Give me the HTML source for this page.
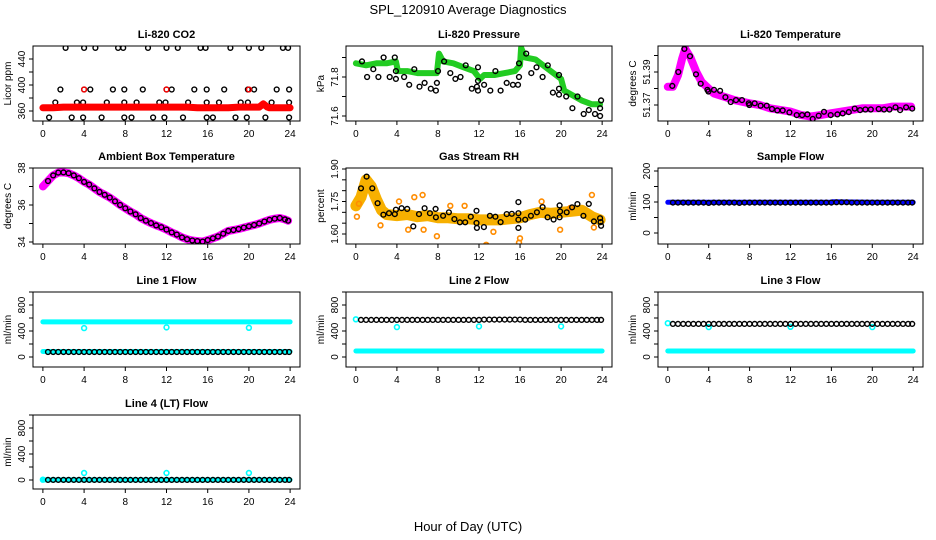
<!DOCTYPE html>
<html><head><meta charset="utf-8"><style>
html,body{margin:0;padding:0;background:#fff;}
svg{display:block;font-family:"Liberation Sans",Arial,sans-serif;}
</style></head><body>
<svg id="chart" width="936" height="540" viewBox="0 0 936 540" xmlns="http://www.w3.org/2000/svg">
<rect x="0" y="0" width="936" height="540" fill="#fff"/>
<text x="468" y="14" text-anchor="middle" font-size="13">SPL_120910  Average Diagnostics</text>
<text x="468" y="531" text-anchor="middle" font-size="13">Hour of Day (UTC)</text>
</svg>
<script>
// ---------- data ----------
const xTicks = [0,4,8,12,16,20,24];

const co2BlackHours = [2.2,4,5.1,7.3,7.8,10.2,12,13.1,15.3,15.8,18.2,20,21.2,23.3,23.8,
 1.7,4,4.6,6.8,7.9,9.7,12,12.5,14.7,15.9,17.6,19.9,20.5,22.7,23.9,
 1.2,3.3,3.9,6.2,7.9,9.1,11.3,11.9,14.1,15.9,17.1,19.2,19.9,22.2,23.9,
 0.6,2.8,3.9,5.7,7.9,8.6,10.7,11.8,13.6,15.9,16.5,18.7,19.8,21.6,23.9];
const co2BlackValues = [457,457,457,457,457,457,457,457,457,457,457,457,457,457,457,
 393,393,393,393,393,393,393,393,393,393,393,393,393,393,393,
 373,373,373,373,373,373,373,373,373,373,373,373,373,373,373,
 350,350,350,350,350,350,350,350,350,350,350,350,350,350,350];
const co2RedHours = [0,1,2,3,4,5,6,7,8,9,10,11,12,13,14,15,16,17,18,19,20,21,21.4,21.8,22,23,24];
const co2RedValues = [365,365,366,366,366,366,366,366,366,366,366,366,366,366,366,365,365,365,365,366,366,366,371,366,365,365,365];
const co2RedMarkHours = [4,12,20];
const co2RedMarkValues = [393,393,393];

const presGreenHours = [0,1,2,3,3.9,4.1,5,6,7,7.9,8.1,8.5,9.5,10.5,11.5,12.1,12.5,13.5,14.5,15.5,16,16.1,16.5,17.5,18.5,19,20,20.3,21,22,23,23.8];
const presGreenValues = [71.87,71.86,71.87,71.87,71.88,71.83,71.83,71.82,71.82,71.82,71.92,71.88,71.87,71.85,71.83,71.79,71.81,71.81,71.82,71.83,71.86,71.95,71.90,71.89,71.85,71.83,71.79,71.73,71.71,71.68,71.66,71.66];
const presBlackHours = [0.6,1.1,1.7,2.2,2.7,3.3,3.9,3.9,3.8,4.7,5.2,5.7,6.2,6.7,7.3,7.8,7.9,8,8.6,9.2,9.7,10.2,10.7,11.3,11.8,11.9,11.9,11.9,12.5,13.1,13.6,14.1,14.7,15.3,15.8,15.9,15.9,16.6,17.1,17.6,18.2,18.7,19.2,19.8,19.8,19.8,20.5,21.1,21.6,22.2,22.7,23.3,23.8,23.8,23.9];
const presBlackValues = [71.88,71.80,71.84,71.80,71.90,71.80,71.79,71.83,71.90,71.80,71.76,71.84,71.75,71.77,71.74,71.73,71.77,71.83,71.88,71.82,71.79,71.80,71.86,71.74,71.75,71.73,71.78,71.85,71.76,71.73,71.83,71.73,71.77,71.76,71.76,71.80,71.87,71.92,71.82,71.85,71.80,71.86,71.72,71.81,71.74,71.71,71.70,71.64,71.70,71.61,71.63,71.61,71.60,71.64,71.68];

const tempMagHours = [0,0.5,1,1.4,1.7,2.2,2.8,3.3,4,4.5,5.5,6.5,8,9,10,11,12,13,14,15,16,17,18,19,20,21,22,23,23.8];
const tempMagValues = [51.381,51.381,51.388,51.398,51.404,51.399,51.390,51.384,51.380,51.377,51.375,51.373,51.371,51.370,51.368,51.367,51.366,51.364,51.363,51.364,51.365,51.366,51.367,51.368,51.368,51.368,51.369,51.369,51.369];
const tempBlackHours = [0.44,1.03,1.62,2.17,2.76,3.22,3.87,3.97,4.52,5.11,5.63,6.15,6.67,7.26,7.91,7.97,8.5,9.08,9.67,10.19,10.71,11.24,11.89,12.61,13.13,13.65,14.17,14.76,15.28,15.93,16.59,17.11,17.7,18.28,18.81,19.33,19.85,20.63,21.16,21.68,22.27,22.72,23.31,23.9];
const tempBlackValues = [51.3816,51.39,51.4040,51.3996,51.3886,51.3829,51.3792,51.3782,51.3792,51.3786,51.3747,51.3718,51.373,51.373,51.371,51.37,51.371,51.3696,51.3696,51.3676,51.3667,51.3667,51.3655,51.3639,51.3639,51.3643,51.3616,51.3635,51.3659,51.3639,51.3643,51.3649,51.3657,51.3678,51.3669,51.3673,51.3673,51.3676,51.3673,51.3673,51.3686,51.3669,51.3686,51.3678];

const ambHours = [0,0.5,1,1.5,2,2.5,3,3.5,4,4.5,5,5.5,6,6.5,7,7.5,8,8.5,9,9.5,10,10.5,11,11.5,12,12.5,13,13.5,14,14.5,15,15.5,16,16.5,17,17.5,18,18.5,19,19.5,20,20.5,21,21.5,22,22.5,23,23.5,23.8];
const ambValues = [37.0,37.3,37.6,37.75,37.76,37.72,37.6,37.45,37.25,37.1,36.9,36.7,36.55,36.4,36.2,36.0,35.82,35.65,35.5,35.3,35.15,35.02,34.9,34.8,34.67,34.52,34.4,34.25,34.15,34.08,34.05,34.02,34.1,34.2,34.3,34.45,34.6,34.65,34.7,34.78,34.85,34.92,35.0,35.1,35.2,35.26,35.3,35.22,35.15];

const rhBandHours = [0,0.5,1,1.5,2,2.5,3,4,5,6,7,8,9,10,11,12,13,14,15,16,17,18,19,20,21,22,23,23.8];
const rhBandValues = [1.73,1.77,1.85,1.82,1.76,1.71,1.69,1.685,1.69,1.68,1.685,1.675,1.675,1.67,1.67,1.665,1.665,1.665,1.67,1.675,1.69,1.70,1.695,1.70,1.705,1.71,1.68,1.665];
const rhOutHours = [0.1,0.3,5.1,5.7,6.5,6.6,7.9,9.2,12.7,15.9,16,19.9,23,23.2,4.2,10.6,18.1,2.4,13.4,20.9];
const rhOutValues = [1.68,1.74,1.62,1.77,1.78,1.62,1.59,1.73,1.55,1.56,1.58,1.62,1.78,1.63,1.75,1.73,1.75,1.64,1.61,1.72];
const rhBlackHours = [0.5,1.05,1.6,2.12,2.68,3.23,3.8,3.9,4.46,5.0,5.6,6.15,6.7,7.22,7.77,7.8,8.5,9.07,9.6,10.14,10.66,11.2,11.76,11.76,11.8,12.48,13.06,13.6,14.1,14.7,15.2,15.84,15.84,15.84,15.84,16.5,17.06,17.64,18.2,18.68,19.27,19.85,19.85,19.9,20.55,21.07,21.59,22.17,22.7,23.2,23.8,23.85,23.9];
const rhBlackValues = [1.811,1.865,1.811,1.742,1.689,1.696,1.692,1.712,1.719,1.716,1.635,1.692,1.719,1.696,1.716,1.677,1.684,1.70,1.669,1.654,1.654,1.68,1.707,1.651,1.628,1.632,1.684,1.68,1.655,1.692,1.693,1.747,1.696,1.666,1.628,1.666,1.684,1.70,1.724,1.677,1.667,1.677,1.732,1.704,1.70,1.723,1.738,1.684,1.739,1.658,1.673,1.655,1.638];

const flowHours = [0.5,1,1.5,2,2.5,3,3.5,4,4.5,5,5.5,6,6.5,7,7.5,8,8.5,9,9.5,10,10.5,11,11.5,12,12.5,13,13.5,14,14.5,15,15.5,16,16.5,17,17.5,18,18.5,19,19.5,20,20.5,21,21.5,22,22.5,23,23.5,23.9];
const sampleBlackValues = [98,98,98,98,98,98,98,97,98,98,98,98,98,97,98,98,98,98,98,98,98,98,98,98,98,98,98,98,98,98,98,98,99,99,99,98,98,98,98,98,98,98,98,98,98,98,98,98];
const sampleBlueHours = [0,4,8,12,16,16.1,20,24];
const sampleBlueValues = [99,99,99,99,99,101,99,99];
const line1BlackValues = [77,77,77,77,77,77,77,77,77,77,77,77,77,77,77,77,77,77,77,77,77,77,77,77,77,77,77,77,77,77,77,77,77,77,77,77,77,77,77,77,77,77,77,77,77,77,77,77];
const line1CyanTopHours = [0,4,8,12,16,20,24];
const line1CyanTopValues = [540,540,540,540,540,540,540];
const line1CyanLowHours = [0,4,8,12,16,20,24];
const line1CyanLowValues = [85,85,85,85,85,85,85];
const line1DipHours = [4,12,20];
const line1DipValues = [445,455,450];
const line2BlackValues = [570,570,570,570,570,570,570,570,570,570,570,570,570,570,570,570,570,570,570,570,570,570,570,570,575,575,575,575,575,575,575,575,570,570,570,570,570,570,570,570,570,570,570,570,570,570,570,570];
const line2CyanLowHours = [0,4,8,12,16,20,24];
const line2CyanLowValues = [92,92,92,92,92,92,92];
const line2DipHours = [0,4,12,20];
const line2DipValues = [580,460,470,470];
const line3BlackValues = [510,510,510,510,510,510,510,510,510,510,510,510,510,510,510,510,510,510,510,510,510,510,510,510,510,510,510,510,510,510,510,510,510,510,510,510,510,510,510,510,510,510,510,510,510,510,510,510];
const line3CyanLowHours = [0,4,8,12,16,20,24];
const line3CyanLowValues = [92,92,92,92,92,92,92];
const line3DipHours = [0,4,12,20];
const line3DipValues = [520,460,465,460];
const line4BlackValues = [2,2,2,2,2,2,2,2,2,2,2,2,2,2,2,2,2,2,2,2,2,2,2,2,2,2,2,2,2,2,2,2,2,2,2,2,2,2,2,2,2,2,2,2,2,2,2,2];
const line4CyanLowHours = [0,4,8,12,16,20,24];
const line4CyanLowValues = [2,2,2,2,2,2,2];
const line4DipHours = [0,4,12,20];
const line4DipValues = [5,108,108,108];

// ---------- drawing ----------
const NS = "http://www.w3.org/2000/svg";
const svg = document.getElementById("chart");
function el(tag, parent) { const e = document.createElementNS(NS, tag); parent.appendChild(e); return e; }

function makePanel(cfg) {
  const g = el("g", svg);
  
  
  const [x0, y0, x1, y1] = cfg.box;
  const xLo = -0.96, xHi = 24.96;
  const sx = h => x0 + (h - xLo) / (xHi - xLo) * (x1 - x0);
  const k = (cfg.ref[1][1] - cfg.ref[0][1]) / (cfg.ref[1][0] - cfg.ref[0][0]);
  const sy = v => cfg.ref[0][1] + (v - cfg.ref[0][0]) * k;
  const clip = "clip-" + cfg.name;
  const cp = el("clipPath", g); cp.setAttribute("id", clip);
  const cr = el("rect", cp);
  cr.setAttribute("x", x0); cr.setAttribute("y", y0); cr.setAttribute("width", x1 - x0); cr.setAttribute("height", y1 - y0);
  const plot = el("g", g); plot.setAttribute("clip-path", "url(#" + clip + ")");
  
  

  const title = el("text", g);
  title.setAttribute("x", (x0 + x1) / 2); title.setAttribute("y", y0 - 8);
  title.setAttribute("text-anchor", "middle"); title.setAttribute("font-size", "11"); title.setAttribute("font-weight", "bold");
  title.textContent = cfg.title;
  
  

  const xa = el("g", g);
  
  
  const xl = el("line", xa);
  xl.setAttribute("x1", sx(xTicks[0])); xl.setAttribute("x2", sx(xTicks[xTicks.length - 1]));
  xl.setAttribute("y1", y1); xl.setAttribute("y2", y1); xl.setAttribute("stroke", "#000");
  xTicks.forEach(t => {
    const tl = el("line", xa);
    tl.setAttribute("x1", sx(t)); tl.setAttribute("x2", sx(t)); tl.setAttribute("y1", y1); tl.setAttribute("y2", y1 + 4); tl.setAttribute("stroke", "#000");
    const tx = el("text", xa);
    tx.setAttribute("x", sx(t)); tx.setAttribute("y", y1 + 16); tx.setAttribute("text-anchor", "middle"); tx.setAttribute("font-size", "10");
    tx.textContent = t;
    
    
  });
  const ya = el("g", g);
  
  
  const yt = cfg.yTicks;
  const yl = el("line", ya);
  yl.setAttribute("x1", x0); yl.setAttribute("x2", x0); yl.setAttribute("y1", sy(yt[0])); yl.setAttribute("y2", sy(yt[yt.length - 1])); yl.setAttribute("stroke", "#000");
  yt.forEach(t => {
    const tl = el("line", ya);
    tl.setAttribute("x1", x0 - 4); tl.setAttribute("x2", x0); tl.setAttribute("y1", sy(t)); tl.setAttribute("y2", sy(t)); tl.setAttribute("stroke", "#000");
  });
  cfg.yLabels.forEach(t => {
    const tx = el("text", ya);
    const yy = sy(parseFloat(t));
    tx.setAttribute("x", x0 - 8); tx.setAttribute("y", yy);
    tx.setAttribute("transform", "rotate(-90 " + (x0 - 8) + " " + yy + ")");
    tx.setAttribute("text-anchor", "middle"); tx.setAttribute("font-size", "10");
    tx.textContent = t;
    
    
  });
  const ytt = el("text", g);
  const cy = (y0 + y1) / 2, cx = x0 - 22;
  ytt.setAttribute("x", cx); ytt.setAttribute("y", cy);
  ytt.setAttribute("transform", "rotate(-90 " + cx + " " + cy + ")");
  ytt.setAttribute("text-anchor", "middle"); ytt.setAttribute("font-size", "10");
  ytt.textContent = cfg.ytitle;
  
  

  function band(hours, vals, color, w, nm) {
    const p = el("polyline", plot);
    p.setAttribute("points", hours.map((h, i) => sx(h).toFixed(1) + "," + sy(vals[i]).toFixed(1)).join(" "));
    p.setAttribute("fill", "none"); p.setAttribute("stroke", color); p.setAttribute("stroke-width", w);
    p.setAttribute("stroke-linejoin", "round"); p.setAttribute("stroke-linecap", "round");
    
    
  }
  function pts(hours, vals, color, nm, sw) {
    const pg = el("g", plot);
    
    
    hours.forEach((h, i) => {
      const c = el("circle", pg);
      c.setAttribute("cx", sx(h).toFixed(1)); c.setAttribute("cy", sy(vals[i]).toFixed(1)); c.setAttribute("r", 2.4);
      c.setAttribute("fill", "none"); c.setAttribute("stroke", color); c.setAttribute("stroke-width", sw || 1.4);
      
      
    });
  }
  cfg.draw(band, pts);

  const bx = el("rect", g);
  bx.setAttribute("x", x0); bx.setAttribute("y", y0); bx.setAttribute("width", x1 - x0); bx.setAttribute("height", y1 - y0);
  bx.setAttribute("fill", "none"); bx.setAttribute("stroke", "#000");
  
  
}

const C1 = [33, 300], C2 = [346, 612], C3 = [658, 923];
const flowTicks = [0,200,400,600,800,1000], flowLabels = ["0","400","800"];

makePanel({name:"co2-panel", title:"Li-820 CO2", ytitle:"Licor ppm", box:[C1[0],46,C1[1],121], ref:[[360,111],[440,59]],
  yTicks:[360,380,400,420,440], yLabels:["360","400","440"],
  draw:(band,pts)=>{ pts(co2BlackHours,co2BlackValues,"#000","co2-hourly-points");
    band(co2RedHours,co2RedValues,"#ff0000",7,"co2-raw-series");
    pts(co2RedMarkHours,co2RedMarkValues,"#ff0000","co2-red-marks"); }});
makePanel({name:"pressure-panel", title:"Li-820 Pressure", ytitle:"kPa", box:[C2[0],46,C2[1],121], ref:[[71.6,116],[71.8,77]],
  yTicks:[71.6,71.7,71.8,71.9], yLabels:["71.6","71.8"],
  draw:(band,pts)=>{ band(presGreenHours,presGreenValues,"#22cc22",6,"pressure-raw-series");
    pts(presBlackHours,presBlackValues,"#000","pressure-hourly-points"); }});
makePanel({name:"temperature-panel", title:"Li-820 Temperature", ytitle:"degrees C", box:[C3[0],46,C3[1],121], ref:[[51.37,105],[51.39,72]],
  yTicks:[51.37,51.38,51.39,51.40], yLabels:["51.37","51.39"],
  draw:(band,pts)=>{ band(tempMagHours,tempMagValues,"#ff00ff",8,"temperature-raw-series");
    pts(tempBlackHours,tempBlackValues,"#000","temperature-hourly-points"); }});
makePanel({name:"ambient-panel", title:"Ambient Box Temperature", ytitle:"degrees C", box:[C1[0],168,C1[1],244], ref:[[34,242],[38,168]],
  yTicks:[34,35,36,37,38], yLabels:["34","36","38"],
  draw:(band,pts)=>{ band(ambHours,ambValues,"#ff00ff",8,"ambient-raw-series");
    pts(ambHours.slice(1),ambValues.slice(1),"#000","ambient-hourly-points"); }});
makePanel({name:"rh-panel", title:"Gas Stream RH", ytitle:"percent", box:[C2[0],168,C2[1],244], ref:[[1.60,234],[1.90,169]],
  yTicks:[1.60,1.65,1.70,1.75,1.80,1.85,1.90], yLabels:["1.60","1.75","1.90"],
  draw:(band,pts)=>{ band(rhBandHours,rhBandValues,"#f7b000",11,"rh-raw-series");
    pts(rhOutHours,rhOutValues,"#ff8c00","rh-raw-outliers",1.6);
    pts(rhBlackHours,rhBlackValues,"#000","rh-hourly-points"); }});
makePanel({name:"sample-flow-panel", title:"Sample Flow", ytitle:"ml/min", box:[C3[0],168,C3[1],244], ref:[[0,233],[200,171]],
  yTicks:[0,50,100,150,200], yLabels:["0","100","200"],
  draw:(band,pts)=>{ band(sampleBlueHours,sampleBlueValues,"#0000ff",5,"sample-flow-raw");
    pts(flowHours,sampleBlackValues,"#000","sample-flow-hourly-points"); }});
makePanel({name:"line1-flow-panel", title:"Line 1 Flow", ytitle:"ml/min", box:[C1[0],292,C1[1],367], ref:[[0,357],[800,305]],
  yTicks:flowTicks, yLabels:flowLabels,
  draw:(band,pts)=>{ band(line1CyanTopHours,line1CyanTopValues,"#00ffff",5,"line1-high-raw");
    band(line1CyanLowHours,line1CyanLowValues,"#00ffff",5,"line1-low-raw");
    pts(line1DipHours,line1DipValues,"#00ffff","line1-dips",1.6);
    pts(flowHours,line1BlackValues,"#000","line1-hourly-points"); }});
makePanel({name:"line2-flow-panel", title:"Line 2 Flow", ytitle:"ml/min", box:[C2[0],292,C2[1],367], ref:[[0,357],[800,305]],
  yTicks:flowTicks, yLabels:flowLabels,
  draw:(band,pts)=>{ band(line2CyanLowHours,line2CyanLowValues,"#00ffff",5,"line2-low-raw");
    pts(line2DipHours,line2DipValues,"#00ffff","line2-dips",1.6);
    pts(flowHours,line2BlackValues,"#000","line2-hourly-points"); }});
makePanel({name:"line3-flow-panel", title:"Line 3 Flow", ytitle:"ml/min", box:[C3[0],292,C3[1],367], ref:[[0,357],[800,305]],
  yTicks:flowTicks, yLabels:flowLabels,
  draw:(band,pts)=>{ band(line3CyanLowHours,line3CyanLowValues,"#00ffff",5,"line3-low-raw");
    pts(line3DipHours,line3DipValues,"#00ffff","line3-dips",1.6);
    pts(flowHours,line3BlackValues,"#000","line3-hourly-points"); }});
makePanel({name:"line4-flow-panel", title:"Line 4 (LT) Flow", ytitle:"ml/min", box:[C1[0],415,C1[1],489], ref:[[0,480],[800,428]],
  yTicks:flowTicks, yLabels:flowLabels,
  draw:(band,pts)=>{ band(line4CyanLowHours,line4CyanLowValues,"#00ffff",5,"line4-low-raw");
    pts(line4DipHours,line4DipValues,"#00ffff","line4-dips",1.6);
    pts(flowHours,line4BlackValues,"#000","line4-hourly-points"); }});
</script>
</body></html>
